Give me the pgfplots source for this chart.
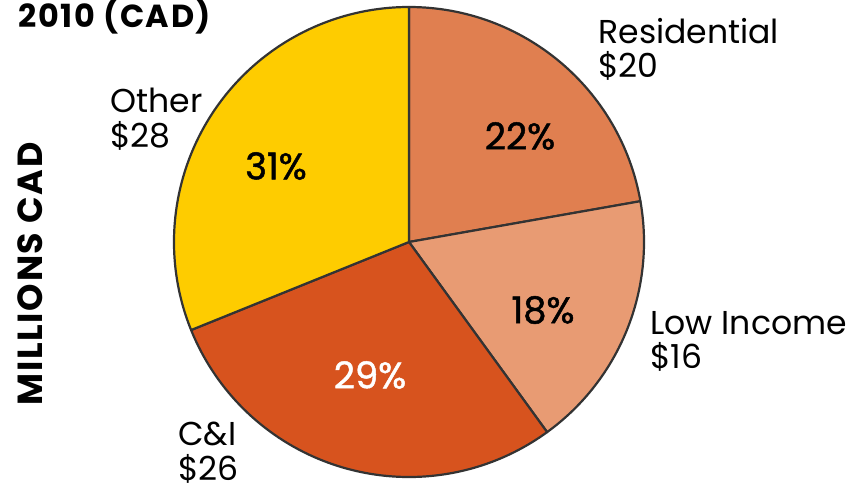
\documentclass[border=0pt]{standalone}
\usepackage{fontspec}
\setmainfont{Poppins}
\newfontfamily\pctfont{Poppins}[FakeBold=1.3]
\newfontfamily\spfont{Poppins}[LetterSpace=5]
\usepackage{pgfplots}
\usepackage{pgfplotstable}
\pgfplotsset{compat=1.18}

\definecolor{cRes}{HTML}{E07F50}
\definecolor{cLow}{HTML}{E89B73}
\definecolor{cCI}{HTML}{D7531E}
\definecolor{cOth}{HTML}{FECC00}
\definecolor{pieline}{HTML}{333333}

% slices, clockwise from 12 o'clock
\pgfplotstableread{
name value pct color
Residential 20 22 cRes
LowIncome 16 18 cLow
CI 26 29 cCI
Other 28 31 cOth
}\piedata

\begin{document}
\begin{tikzpicture}
\path[use as bounding box] (0,0) rectangle (431.5bp,244.5bp);
\begin{axis}[
  x=0.5bp, y=0.5bp,
  xmin=0, xmax=863, ymin=0, ymax=489,
  scale only axis, hide axis, clip=false,
  disabledatascaling
]
  \def\total{0}
  \pgfplotsforeachungrouped \i in {0,...,3}{%
    \pgfplotstablegetelem{\i}{value}\of\piedata
    \pgfmathsetmacro\total{\total+\pgfplotsretval}%
  }
  \def\acc{90}
  \pgfplotsforeachungrouped \i in {0,...,3}{%
    \pgfplotstablegetelem{\i}{value}\of\piedata \let\v\pgfplotsretval
    \pgfplotstablegetelem{\i}{color}\of\piedata \let\c\pgfplotsretval
    \pgfmathsetmacro\a{\acc}%
    \pgfmathsetmacro\b{\acc-\v*360/\total}%
    \edef\temp{\noexpand\filldraw[fill=\c, draw=pieline, line width=1.1bp, line join=round]
      (axis cs:409,247) -- ++(\a:117.5bp) arc[start angle=\a, end angle=\b, radius=117.5bp] -- cycle;}%
    \temp
    \global\let\acc\b
  }

  % percentages
  \tikzset{pc/.style={font=\pctfont\fontsize{18.5}{20}\selectfont, inner sep=0}}
  \node[pc] at (axis cs:276,323) {31\%};
  \node[pc] at (axis cs:520,353) {22\%};
  \node[pc] at (axis cs:543,179) {18\%};
  \node[pc, text=white] at (axis cs:370,114) {29\%};

  % category labels
  \tikzset{lab/.style={font=\fontsize{16.6}{18}\selectfont, inner sep=0, anchor=base west}}
  \node[lab] at (axis cs:110,377) {Other};
  \node[lab] at (axis cs:110,342) {\$28};
  \node[lab] at (axis cs:598,446) {Residential};
  \node[lab] at (axis cs:598,412) {\$20};
  \node[lab] at (axis cs:650,155) {Low Income};
  \node[lab] at (axis cs:650,121) {\$16};
  \node[lab] at (axis cs:178,44) {C\&I};
  \node[lab] at (axis cs:178,9) {\$26};

  % title and side label
  \node[font=\spfont\bfseries\fontsize{16}{18}\selectfont, inner sep=0, anchor=base west] at (axis cs:18,462) {2010 (CAD)};
  \node[font=\spfont\bfseries\fontsize{17.5}{20}\selectfont, inner sep=0, rotate=90] at (axis cs:30,215) {MILLIONS CAD};
\end{axis}
\end{tikzpicture}
\end{document}
